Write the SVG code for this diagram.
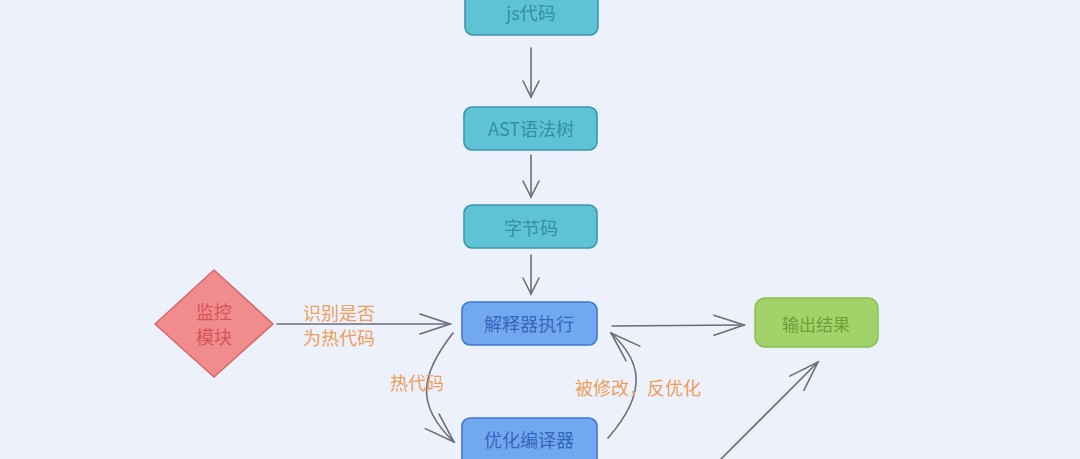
<svg xmlns="http://www.w3.org/2000/svg" width="1080" height="459" viewBox="0 0 1080 459">
<defs>
<style>
.cy{fill:#5EC3D4;stroke:#3C96AA;stroke-width:1.6}
.cyt{fill:#3390A8;font-family:"Noto Sans CJK SC","Noto Sans",sans-serif;font-size:18px;text-anchor:middle;dominant-baseline:central}
.bl{fill:#72A9EE;stroke:#3F78D0;stroke-width:1.6}
.blt{fill:#3466C0;font-family:"Noto Sans CJK SC","Noto Sans",sans-serif;font-size:18px;text-anchor:middle;dominant-baseline:central}
.lab{fill:#EE9F5A;font-family:"Noto Sans CJK SC","Noto Sans",sans-serif;font-size:18px;dominant-baseline:central}
.con{fill:none;stroke:#6B6E7A;stroke-width:1.6;stroke-linecap:round}
</style>
<marker id="ah" viewBox="0 0 20 20" refX="18" refY="10" markerWidth="20" markerHeight="20" markerUnits="userSpaceOnUse" orient="auto">
<path d="M2,2 L18,10 L2,18" fill="none" stroke="#6B6E7A" stroke-width="1.6" stroke-linecap="round"/>
</marker>
<marker id="ahL" viewBox="0 0 36 24" refX="34" refY="12" markerWidth="36" markerHeight="24" markerUnits="userSpaceOnUse" orient="auto">
<path d="M4,2 L34,12 L4,22" fill="none" stroke="#6B6E7A" stroke-width="1.6" stroke-linecap="round"/>
</marker>
</defs>
<rect x="0" y="0" width="1080" height="459" fill="#ECF1FC"/>

<g id="connectors">
<path class="con" d="M531,48 L531,97" marker-end="url(#ah)"/>
<path class="con" d="M531,155 L531,197" marker-end="url(#ah)"/>
<path class="con" d="M531,255 L531,294" marker-end="url(#ah)"/>
<path class="con" d="M277,324 L450,324" marker-end="url(#ahL)"/>
<path class="con" d="M612,326 L744,325" marker-end="url(#ahL)"/>
<path class="con" d="M453,333 C420,375 415,405 454,442" marker-end="url(#ahL)"/>
<path class="con" d="M608,438 C650,390 640,360 611,333" marker-end="url(#ahL)"/>
<path class="con" d="M718,462 L818,362" marker-end="url(#ahL)"/>
</g>

<g id="n-js">
<rect class="cy" x="465" y="-10" width="133" height="45" rx="8"/>
<text class="cyt" x="531" y="12">js代码</text>
</g>
<g id="n-ast">
<rect class="cy" x="464" y="107" width="133" height="43" rx="8"/>
<text class="cyt" x="531" y="128">AST语法树</text>
</g>
<g id="n-byte">
<rect class="cy" x="464" y="205" width="133" height="43" rx="8"/>
<text class="cyt" x="531" y="227">字节码</text>
</g>
<g id="n-interp">
<rect class="bl" x="462" y="302" width="135" height="43" rx="8"/>
<text class="blt" x="529" y="323">解释器执行</text>
</g>
<g id="n-opt">
<rect class="bl" x="462" y="418" width="135" height="50" rx="8"/>
<text class="blt" x="529" y="439">优化编译器</text>
</g>
<g id="n-out">
<rect x="755" y="298" width="123" height="49" rx="10" fill="#A2D36A" stroke="#86BF4E" stroke-width="1.4"/>
<text x="816" y="323" fill="#6E9F38" font-family="Noto Sans CJK SC, Noto Sans, sans-serif" font-size="17" text-anchor="middle" dominant-baseline="central">输出结果</text>
</g>
<g id="n-monitor">
<path d="M214,270 L273,324 L214,377 L155,324 Z" fill="#F18C8E" stroke="#D9676A" stroke-width="1.6" stroke-linejoin="round"/>
<text x="214" y="311" fill="#D65357" font-family="Noto Sans CJK SC, Noto Sans, sans-serif" font-size="18" text-anchor="middle" dominant-baseline="central">监控</text>
<text x="214" y="336" fill="#D65357" font-family="Noto Sans CJK SC, Noto Sans, sans-serif" font-size="18" text-anchor="middle" dominant-baseline="central">模块</text>
</g>

<g id="labels">
<text class="lab" x="303" y="312">识别是否</text>
<text class="lab" x="303" y="337">为热代码</text>
<text class="lab" x="390" y="382">热代码</text>
<text class="lab" x="575" y="387">被修改，反优化</text>
</g>
</svg>
